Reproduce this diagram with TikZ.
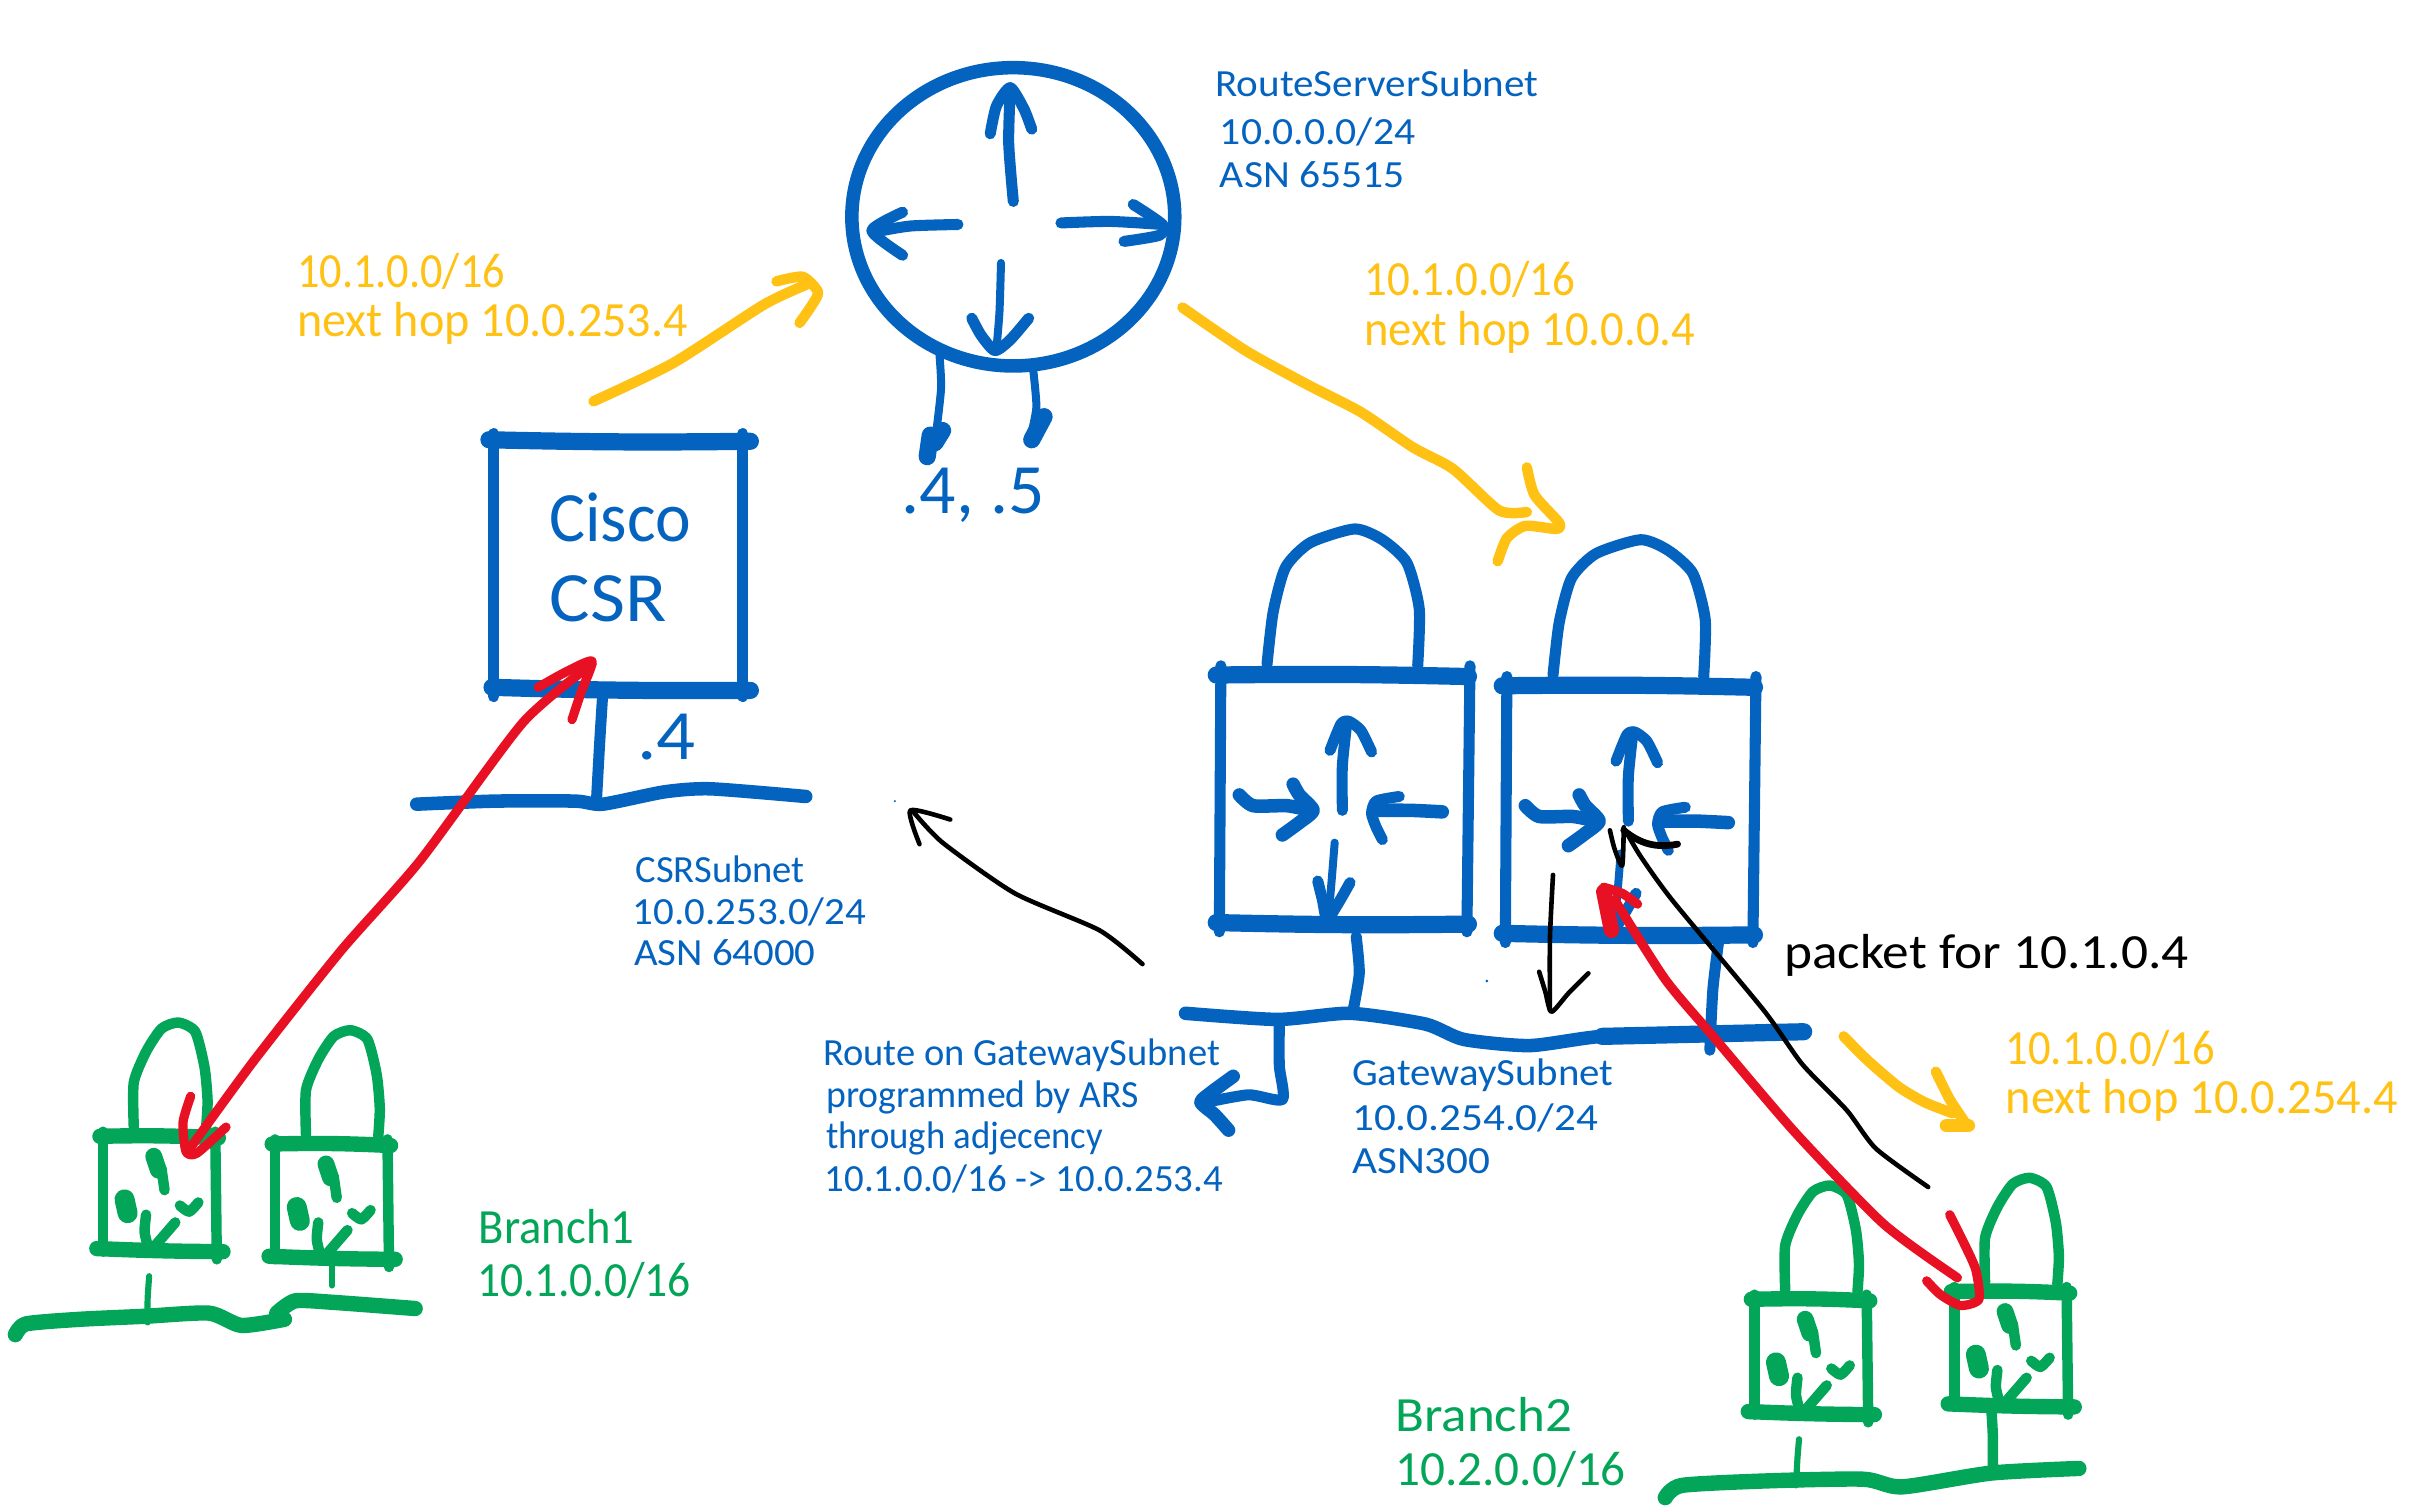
\documentclass[tikz,border=0pt]{standalone}
\usepackage{fontspec}
\setmainfont{Carlito}
\definecolor{inkblue}{HTML}{0563C0}
\definecolor{inkorange}{HTML}{FFC114}
\definecolor{inkgreen}{HTML}{03A658}
\definecolor{inkred}{HTML}{E81123}
\newcommand\inktext[6]{\node[#2,anchor=base west,inner sep=0pt] (#1) at ({#3-2},{#4-3}) {\resizebox{\dimexpr#5pt/2\relax}{\height}{#6}};}
\newcommand\stroke[2]{\draw[#1] plot[smooth,tension=.4] coordinates {#2};}
\tikzset{
  ink/.style={line cap=round,line join=round},
  bx/.style={ink,inkblue,line width=5.6pt},
  bb/.style={ink,inkblue,line width=4.4pt},
  bm/.style={ink,inkblue,line width=3.6pt},
  bs/.style={ink,inkblue,line width=2.6pt},
  gb/.style={ink,inkgreen,line width=5pt},
  gm/.style={ink,inkgreen,line width=3.4pt},
  gs/.style={ink,inkgreen,line width=2pt},
  ob/.style={ink,inkorange,line width=3.4pt},
  rb/.style={ink,inkred,line width=3pt},
  kb/.style={ink,black,line width=1.5pt},
  tblue/.style={text=inkblue,font=\fontsize{12.5}{14}\selectfont},
  tgreen/.style={text=inkgreen,font=\fontsize{16}{18}\selectfont},
  torange/.style={text=inkorange,font=\fontsize{16}{18}\selectfont},
  tblack/.style={text=black,font=\fontsize{16}{18}\selectfont},
  tbig/.style={text=inkblue,font=\fontsize{23}{26}\selectfont},
  pics/gatelock/.style={code={
    \stroke{bm}{(822,429)(826,395)(834,366)(850,350)(879,341)(897,348)(913,363)(921,393)(920,430)}
    \draw[bx] (789,436) to[bend left=1] (953,437);
    \draw[bx] (789,597) to[bend right=1] (953,598);
    \draw[bm] (792,430) -- (791,603);
    \draw[bm] (954,430) -- (952,603);
    \stroke{bm}{(871,524)(871,495)(874,466)}
    \stroke{bm}{(863,485)(870,468)(875,466)(883,472)(890,486)}
    \stroke{bb}{(804,514)(813,521)(835,521)(850,524)}
    \stroke{bb}{(839,507)(843,514)(852,524)(843,532)(832,540)}
    \stroke{bb}{(936,525)(915,524)(892,524)}
    \stroke{bm}{(908,515)(893,518)(890,526)(893,535)(897,543)}
    \stroke{bs}{(866,545)(864,570)(862,593)}
    \stroke{bm}{(855,570)(858,582)(861,595)(868,585)(876,571)}
  }},
  pics/greenlock/.style={code={
    \stroke{gm}{(85,729)(85,700)(93,680)(103,665)(114,661)(125,667)(131,690)(133,712)(132,730)}
    \draw[gb] (63,735) to[bend left=2] (140,736);
    \draw[gb] (61,808) to[bend right=1] (143,810);
    \draw[gm] (65,732) -- (65,810);
    \draw[gm] (138,732) -- (139,815);
    \stroke{gm}{(103,756)(105,770)}
    \draw[ink,inkgreen,line width=5.5pt] (98,748) -- (101,757);
    \draw[ink,inkgreen,line width=6.5pt] (79,776) -- (81,785);
    \stroke{gm}{(115,780)(121,784)(127,778)}
    \stroke{gm}{(93,786)(92,797)(94,806)}
    \draw[gm] (112,791) -- (99,806);
  }},
}
\begin{document}
\begin{tikzpicture}[x=0.5pt,y=-0.5pt]
\useasboundingbox (0,0) rectangle (1568,983.3);
\fill[white] (0,0) rectangle (1568,983.3);
\begin{scope}[shift={(2,3)}]

% route server
\draw[bb] (657,138) ellipse [x radius=105,y radius=97];
\stroke{bm}{(657,128)(654,90)(655,55)}
\stroke{bm}{(642,84)(646,66)(655,54)(664,68)(669,81)}
\stroke{bm}{(621,143)(590,144)(566,148)}
\stroke{bm}{(585,135)(565,147)(585,163)}
\stroke{bm}{(688,142)(720,141)(754,143)}
\stroke{bm}{(735,130)(754,143)(752,150)(729,154)}
\stroke{bs}{(649,168)(648,200)(646,224)}
\stroke{bm}{(630,204)(636,215)(645,225)(655,218)(667,204)}
\stroke{bs}{(609,228)(610,250)(606,285)}
\stroke{bs}{(670,238)(672,262)(668,282)}
\draw[bx] (601,294) -- (603,280) (611,277) -- (606,285);
\draw[bx] (669,283) -- (677,268);
\inktext{dots}{tbig}{586}{334}{93}{.4, .5}

% Cisco CSR
\draw[bx] (316,283) to[bend right=1] (486,284);
\draw[bx] (318,444) to[bend right=1] (486,446);
\draw[bm] (319,279) -- (319,450);
\draw[bm] (481,279) -- (481,450);
\inktext{cisco}{tbig}{357}{352}{92}{Cisco}
\inktext{csr}{tbig}{357}{404}{76}{CSR}
\stroke{bm}{(390,448)(388,480)(386,516)}
\inktext{csrip}{tbig}{414}{494}{38}{.4}
\stroke{bb}{(269,520)(320,518)(372,518)(390,520)(430,512)(460,510)(522,515)}

% gateways
\pic at (0,0) {gatelock};
\pic at (186,7) {gatelock};
\stroke{bm}{(880,606)(882,630)(878,654)}
\stroke{bm}{(1116,607)(1112,640)(1110,680)}
\stroke{bb}{(769,656)(829,660)(876,656)(925,663)(950,673)(993,677)(1040,671)(1109,670)}
\draw[bx] (1040,671) -- (1171,668);
\stroke{bm}{(830,661)(830,690)(832,712)(810,709)(782,714)}
\stroke{bb}{(800,697)(785,708)(779,714)(788,722)(797,732)}
\fill[inkblue] (965,635) circle (1);
\fill[inkblue] (580,518) circle (.7);

% green branches
\pic at (0,1) {greenlock};
\pic at (112,6) {greenlock};
\pic at (1074,107) {greenlock};
\pic at (1204,102) {greenlock};
\stroke{gs}{(95,827)(94,842)(94,857)}
\stroke{gs}{(214,820)(214,826)(214,833)}
\stroke{gb}{(8,865)(15,858)(50,855)(93,853)(134,851)(155,859)(183,855)}
\stroke{gb}{(178,851)(190,843)(215,844)(268,848)}
\stroke{gs}{(1168,933)(1167,945)(1166,963)}
\stroke{gm}{(1293,913)(1294,930)(1294,955)}
\stroke{gb}{(1081,971)(1092,963)(1150,960)(1210,959)(1235,964)(1293,955)(1350,952)}
\inktext{brone}{tgreen}{311}{809}{101}{Branch1}
\inktext{bronenet}{tgreen}{310}{843}{139}{10.1.0.0/16}
\inktext{brtwo}{tgreen}{907}{931}{115}{Branch2}
\inktext{brtwonet}{tgreen}{907}{966}{150}{10.2.0.0/16}

% blue labels
\inktext{rsa}{tblue}{790}{63}{210}{RouteServerSubnet}
\inktext{rsb}{tblue}{793}{94}{127}{10.0.0.0/24}
\inktext{rsc}{tblue}{793}{122}{120}{ASN 65515}
\inktext{csa}{tblue}{413}{574}{110}{CSRSubnet}
\inktext{csb}{tblue}{411}{601}{152}{10.0.253.0/24}
\inktext{csc}{tblue}{412}{628}{118}{ASN 64000}
\inktext{gwa}{tblue}{879}{706}{170}{GatewaySubnet}
\inktext{gwb}{tblue}{879}{735}{160}{10.0.254.0/24}
\inktext{gwc}{tblue}{879}{763}{90}{ASN300}
\inktext{roa}{tblue}{535}{693}{258}{Route on GatewaySubnet}
\inktext{rob}{tblue}{537}{720}{203}{programmed by ARS}
\inktext{roc}{tblue}{537}{747}{180}{through adjecency}
\inktext{rod}{tblue}{536}{775}{259}{10.1.0.0/16 -> 10.0.253.4}

% orange
\inktext{oa}{torange}{193}{187}{135}{10.1.0.0/16}
\inktext{ob}{torange}{193}{219}{254}{next hop 10.0.253.4}
\inktext{oc}{torange}{887}{192}{137}{10.1.0.0/16}
\inktext{od}{torange}{887}{225}{215}{next hop 10.0.0.4}
\inktext{oe}{torange}{1304}{692}{136}{10.1.0.0/16}
\inktext{of}{torange}{1304}{724}{255}{next hop 10.0.254.4}
\stroke{ob}{(384,258)(436,233)(495,195)(525,181)}
\stroke{ob}{(503,180)(520,177)(530,187)(525,197)(518,207)}
\stroke{ob}{(767,197)(808,225)(848,247)(883,265)(917,288)(943,302)(973,329)(991,330)}
\stroke{ob}{(991,301)(996,319)(1012,337)(1010,341)(990,339)(978,347)(972,362)}
\stroke{ob}{(1197,671)(1213,687)(1233,704)(1250,714)(1268,721)}
\stroke{ob}{(1257,694)(1266,712)(1276,727)}
\draw[ob,line width=4.5pt] (1264,729) -- (1278,729);

% black
\inktext{pkt}{tblack}{1160}{630}{263}{packet for 10.1.0.4}
\stroke{kb}{(741,624)(713,602)(658,578)(611,545)(592,525)}
\stroke{kb}{(596,546)(590,524)(616,530)}
\stroke{kb}{(1008,566)(1006,607)(1006,654)}
\stroke{kb}{(999,629)(1003,642)(1007,655)(1018,643)(1031,630)}
\stroke{kb}{(1252,769)(1218,744)(1199,719)(1170,689)(1145,654)(1086,583)(1065,554)(1055,537)}
\stroke{kb}{(1045,537)(1048,549)(1053,560)(1054,535)}
\draw[kb,line width=2.2pt] (1054,537) to[bend right=25] (1089,546);

% red
\stroke{rb}{(120,746)(163,687)(220,615)(271,557)(338,467)(383,429)}
\stroke{rb}{(348,444)(366,434)(383,427)(376,447)(370,465)}
\stroke{rb}{(122,710)(117,727)(119,746)(126,747)(145,730)}
\stroke{rb}{(1271,828)(1223,793)(1165,733)(1113,672)(1081,634)(1048,582)}
\draw[ink,inkred,line width=5pt] (1041,577) -- (1046,602);
\stroke{rb}{(1041,574)(1053,578)(1063,585)}
\stroke{rb}{(1266,787)(1276,807)(1283,823)(1285,842)(1273,846)(1260,839)(1251,830)}
\end{scope}
\end{tikzpicture}
\end{document}
